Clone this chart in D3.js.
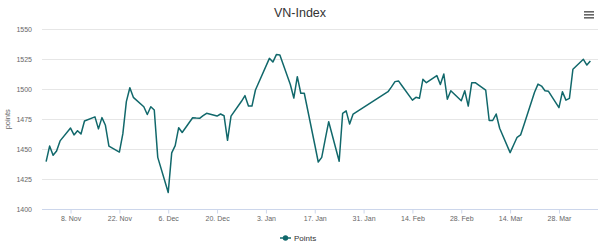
<!DOCTYPE html>
<html>
<head>
<meta charset="utf-8">
<script src="https://cdn.jsdelivr.net/npm/d3@7"></script>
<style>
    body { margin: 0; background: #fff; }
    svg { display: block; font-family: "Liberation Sans", Arial, sans-serif; }
</style>
</head>
<body>
<div class="svg-container"></div>
<script>
// trading days and closing points
const dates = [
    '2021-11-01','2021-11-02','2021-11-03','2021-11-04','2021-11-05',
    '2021-11-08','2021-11-09','2021-11-10','2021-11-11','2021-11-12',
    '2021-11-15','2021-11-16','2021-11-17','2021-11-18','2021-11-19',
    '2021-11-22','2021-11-23','2021-11-24','2021-11-25','2021-11-26',
    '2021-11-29','2021-11-30','2021-12-01','2021-12-02','2021-12-03',
    '2021-12-06','2021-12-07','2021-12-08','2021-12-09','2021-12-10',
    '2021-12-13','2021-12-14','2021-12-15','2021-12-16','2021-12-17',
    '2021-12-20','2021-12-21','2021-12-22','2021-12-23','2021-12-24',
    '2021-12-27','2021-12-28','2021-12-29','2021-12-30','2021-12-31',
    '2022-01-04','2022-01-05','2022-01-06','2022-01-07',
    '2022-01-10','2022-01-11','2022-01-12','2022-01-13','2022-01-14',
    '2022-01-17','2022-01-18','2022-01-19','2022-01-20','2022-01-21',
    '2022-01-24','2022-01-25','2022-01-26','2022-01-27','2022-01-28',
    '2022-02-07','2022-02-08','2022-02-09','2022-02-10','2022-02-11',
    '2022-02-14','2022-02-15','2022-02-16','2022-02-17','2022-02-18',
    '2022-02-21','2022-02-22','2022-02-23','2022-02-24','2022-02-25',
    '2022-02-28','2022-03-01','2022-03-02','2022-03-03','2022-03-04',
    '2022-03-07','2022-03-08','2022-03-09','2022-03-10','2022-03-11',
    '2022-03-14','2022-03-15','2022-03-16','2022-03-17','2022-03-18',
    '2022-03-21','2022-03-22','2022-03-23','2022-03-24','2022-03-25',
    '2022-03-28','2022-03-29','2022-03-30','2022-03-31','2022-04-01',
    '2022-04-04','2022-04-05','2022-04-06'
];
const points = [
    1439.7, 1452.7, 1445.0, 1448.6, 1457.0,
    1467.7, 1462.0, 1465.5, 1462.7, 1473.6,
    1477.0, 1467.0, 1476.4, 1470.0, 1452.7,
    1447.7, 1463.0, 1489.7, 1501.3, 1493.3,
    1485.5, 1479.0, 1485.5, 1482.7, 1443.3,
    1414.0, 1447.0, 1453.0, 1468.0, 1464.0,
    1476.3, 1476.0, 1475.8, 1478.0, 1480.0,
    1477.7, 1479.4, 1478.0, 1457.5, 1477.7,
    1490.0, 1494.7, 1486.0, 1486.0, 1499.4,
    1525.8, 1522.7, 1528.9, 1528.6,
    1504.0, 1492.7, 1510.5, 1496.7, 1496.7,
    1454.0, 1439.4, 1443.3, 1458.2, 1473.0,
    1440.0, 1480.0, 1482.0, 1471.0, 1479.4,
    1498.0, 1502.0, 1506.4, 1507.0, 1503.0,
    1491.0, 1493.3, 1492.5, 1508.3, 1505.5,
    1511.4, 1504.0, 1512.7, 1491.7, 1498.8,
    1490.5, 1498.8, 1486.0, 1505.5, 1505.5,
    1499.4, 1474.0, 1474.0, 1479.4, 1467.5,
    1447.2, 1453.6, 1460.0, 1462.0, 1470.7,
    1497.5, 1504.3, 1502.7, 1498.8, 1498.3,
    1484.7, 1498.0, 1491.0, 1492.5, 1516.7,
    1525.0, 1520.2, 1523.6
];
const yTicks = [1400, 1425, 1450, 1475, 1500, 1525, 1550];
const xTickDates = ['2021-11-08','2021-11-22','2021-12-06','2021-12-20','2022-01-03',
    '2022-01-17','2022-01-31','2022-02-14','2022-02-28','2022-03-14','2022-03-28'];

const title = 'VN-Index';
const yTitle = 'points';
const seriesName = 'Points';
const lineColor = '#11686b';

//required dimensions
const width = 600, height = 247;
const plot = { left: 42, right: 598, top: 29.3, bottom: 209.3 };

const parse = d3.utcParse('%Y-%m-%d');
const data = dates.map((d, i) => ({ date: parse(d), value: points[i] }));
const day = 864e5;

const svg = d3.select('.svg-container')
    .append('svg')
    .attr('width', width)
    .attr('height', height);

//time scale, a bit of room on both sides like the original
const xScale = d3.scaleUtc()
    .domain([new Date(parse('2021-11-08') - 8.18 * day), new Date(+parse('2022-03-28') + 11.19 * day)])
    .range([plot.left, plot.right]);

const yScale = d3.scaleLinear()
    .domain([1400, 1550])
    .range([plot.bottom, plot.top]);

//horizontal grid lines
svg.append('g')
    .selectAll('line')
    .data(yTicks)
    .join('line')
    .attr('x1', plot.left)
    .attr('x2', plot.right)
    .attr('y1', d => Math.round(yScale(d)) + 0.5)
    .attr('y2', d => Math.round(yScale(d)) + 0.5)
    .attr('stroke', d => d === 1400 ? '#ccd6eb' : '#e6e6e6')
    .attr('stroke-width', 1);

//y-axis labels
const yAxis = d3.axisLeft(yScale)
    .tickValues(yTicks)
    .tickFormat(d3.format('d'))
    .tickSize(0)
    .tickPadding(0);
svg.append('g')
    .attr('class', 'y-axis')
    .attr('transform', `translate(${plot.left - 10}, 0)`)
    .call(yAxis)
    .call(g => g.select('.domain').remove())
    .call(g => g.selectAll('text')
        .attr('fill', '#666')
        .attr('font-size', 7)
        .attr('font-family', null));

//x-axis with ticks below
const xAxis = d3.axisBottom(xScale)
    .tickValues(xTickDates.map(parse))
    .tickFormat(d3.utcFormat('%-d. %b'))
    .tickSize(4)
    .tickPadding(3);
svg.append('g')
    .attr('class', 'x-axis')
    .attr('transform', `translate(0, ${Math.round(plot.bottom) + 0.5})`)
    .call(xAxis)
    .call(g => g.select('.domain').remove())
    .call(g => g.selectAll('line').attr('stroke', '#ccd6eb'))
    .call(g => g.selectAll('text')
        .attr('fill', '#666')
        .attr('font-size', 7)
        .attr('font-family', null));

//the line itself
const line = d3.line()
    .x(d => xScale(d.date))
    .y(d => yScale(d.value));

svg.append('path')
    .datum(data)
    .attr('d', line)
    .attr('fill', 'none')
    .attr('stroke', lineColor)
    .attr('stroke-width', 1.5)
    .attr('stroke-linejoin', 'round');

//title
svg.append('text')
    .attr('x', width / 2)
    .attr('y', 17)
    .attr('text-anchor', 'middle')
    .attr('font-size', 12.5)
    .attr('fill', '#333')
    .text(title);

//y-axis title
svg.append('text')
    .attr('transform', `translate(10, ${(plot.top + plot.bottom) / 2}) rotate(-90)`)
    .attr('text-anchor', 'middle')
    .attr('font-size', 7.5)
    .attr('fill', '#666')
    .text(yTitle);

//legend
const legend = svg.append('g').attr('transform', 'translate(280, 238)');
legend.append('line')
    .attr('x1', 0).attr('x2', 11)
    .attr('stroke', lineColor)
    .attr('stroke-width', 1.5);
legend.append('circle')
    .attr('cx', 5.5)
    .attr('r', 2.7)
    .attr('fill', lineColor);
legend.append('text')
    .attr('x', 14)
    .attr('y', 3)
    .attr('font-size', 8)
    .attr('fill', '#333')
    .text(seriesName);

//menu button
svg.append('g')
    .selectAll('rect')
    .data([0, 1, 2])
    .join('rect')
    .attr('x', 584)
    .attr('y', d => 11 + d * 3)
    .attr('width', 10)
    .attr('height', 1.6)
    .attr('fill', '#666');
</script>
</body>
</html>
